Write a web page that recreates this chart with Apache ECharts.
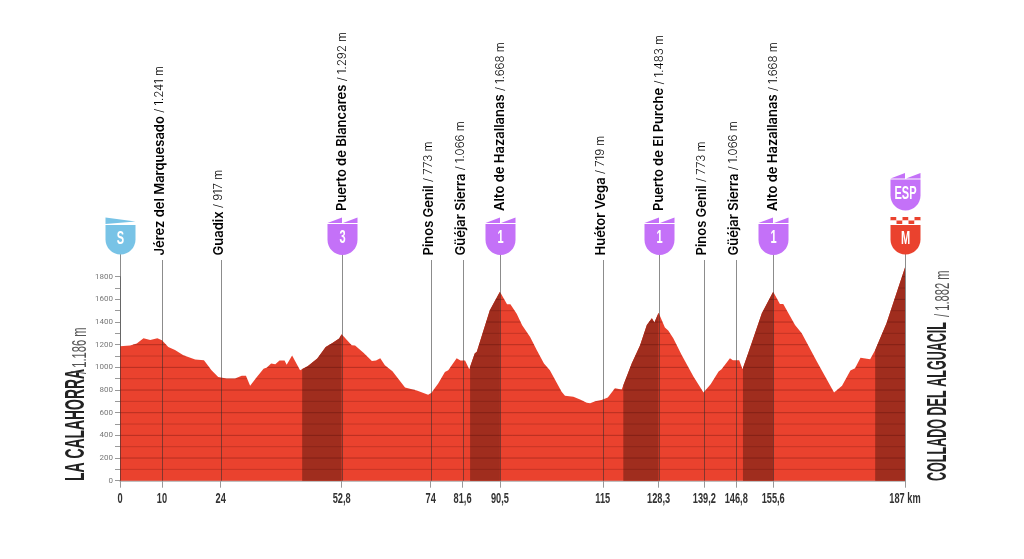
<!DOCTYPE html>
<html>
<head>
<meta charset="utf-8">
<style>html,body{margin:0;padding:0;background:#fff}#main{width:1024px;height:559px}</style>
<script src="https://cdn.jsdelivr.net/npm/echarts@6/dist/echarts.min.js"></script>
</head>
<body>
<div id="main"></div>
<script>
// profile
var profileKm = [0,2.4,4,5.6,7.2,8.9,10,11.5,13.1,15.1,17.9,20,21.8,23.4,25.4,27.4,29,30,31,32.6,34.2,35,36,37,38,39.2,39.7,41,42.9,44.7,47,49,50.6,52.2,52.8,55.2,56,58,60,61,62,63.1,64.9,67.9,70.7,73.4,74.2,75.8,77.4,78.2,80.2,81.1,82.2,83.2,84.5,85,86.6,88.1,90.5,92.2,93,94.5,95.8,97.7,99.3,101,102.4,105.2,106,108,109.6,111.2,112,113.2,114.7,116.2,117.9,119.5,119.9,121.9,123.9,125.5,126.7,127.3,128.3,129.8,130.6,131.8,133.8,136.6,139,140.7,142.6,143.3,145.3,146,147.5,148.3,149.7,150.1,152.9,155.6,157.2,158,160.8,162.4,166,170.1,172,174,175.1,176.4,178.7,179.9,182.6,187];
var profileM = [1186,1192,1210,1257,1242,1257,1240,1180,1154,1107,1069,1063,975,916,902,902,925,925,837,916,987,998,1034,1028,1060,1060,1022,1104,975,1010,1078,1180,1216,1254,1292,1195,1192,1128,1057,1060,1081,1019,966,822,796,758,775,858,960,975,1081,1060,1060,984,1122,1137,1327,1504,1668,1557,1557,1474,1372,1269,1151,1034,975,784,749,740,717,687,684,702,711,734,816,805,843,1034,1195,1374,1433,1395,1483,1351,1325,1257,1110,919,778,852,963,984,1081,1063,1063,984,1131,1140,1477,1668,1560,1560,1374,1301,1051,778,837,972,993,1084,1072,1154,1389,1882];
// climbs [from, to] km
var climbFrom = [43.4,83.4,119.9,148.4,179.9];
var climbTo = [52.8,90.5,128.3,155.6,187];
// waypoints
var wayKm = [0,10,24,52.8,74,81.6,90.5,115,128.3,139.2,146.8,155.6,187];
var wayNames = ['','Jérez del Marquesado','Guadix','Puerto de Blancares','Pinos Genil','Güéjar Sierra','Alto de Hazallanas','Huétor Vega','Puerto de El Purche','Pinos Genil','Güéjar Sierra','Alto de Hazallanas',''];
var wayHeights = ['','1.241 m','917 m','1.292 m','773 m','1.066 m','1.668 m','719 m','1.483 m','773 m','1.066 m','1.668 m',''];
var wayBadges = ['S','','','3','','','1','','1','','','1','M'];
var xTicks = [0,10,24,52.8,74,81.6,90.5,115,128.3,139.2,146.8,155.6,187];
var xLabels = ['0','10','24','52,8','74','81,6','90,5','115','128,3','139,2','146,8','155,6','187 km'];

var RED = '#ea422e', DARK = '#a02d1e', PURPLE = '#c471f8', BLUE = '#78c3e6';
var SANS = '"Liberation Sans"';

function pairs(a, b) { return a.map(function (v, i) { return [v, b[i]]; }); }
var profile = pairs(profileKm, profileM);

// elevation on the profile at a given km
function elevAt(km) {
  for (var i = 1; i < profileKm.length; i++) {
    if (km <= profileKm[i]) {
      var t = (km - profileKm[i - 1]) / (profileKm[i] - profileKm[i - 1]);
      return profileM[i - 1] + t * (profileM[i] - profileM[i - 1]);
    }
  }
  return profileM[profileM.length - 1];
}
function climbData(from, to) {
  var d = [[from, elevAt(from)]];
  profile.forEach(function (p) { if (p[0] > from && p[0] < to) d.push(p); });
  d.push([to, elevAt(to)]);
  return d;
}

// the horizontal rules only exist inside the red, so clip each to the profile
function ruleData(level) {
  var d = [];
  if (profile[0][1] > level) d.push([0, level]);
  for (var i = 1; i < profile.length; i++) {
    var a = profile[i - 1], b = profile[i];
    if ((a[1] - level) * (b[1] - level) < 0) {
      var x = a[0] + (level - a[1]) / (b[1] - a[1]) * (b[0] - a[0]);
      d.push([x, level]);
      if (b[1] < level) d.push([null, null]);
    }
  }
  if (profile[profile.length - 1][1] > level) d.push([187, level]);
  return d;
}

var series = [];
series.push({ type: 'line', data: profile, symbol: 'none', clip: false, silent: true, z: 2,
  lineStyle: { width: 0 }, areaStyle: { color: RED, opacity: 1 } });
climbFrom.forEach(function (f, i) {
  series.push({ type: 'line', data: climbData(f, climbTo[i]), symbol: 'none', clip: false, silent: true, z: 3,
    lineStyle: { width: 0 }, areaStyle: { color: DARK, opacity: 1 } });
});
for (var lv = 100; lv <= 1800; lv += 100) {
  series.push({ type: 'line', data: ruleData(lv), symbol: 'none', clip: false, silent: true, z: 4, connectNulls: false,
    lineStyle: { width: 1, color: 'rgba(60,0,0,' + (lv % 200 === 0 ? 0.3 : 0.2) + ')' } });
}

// shield outline, x0 = left, y0 = top, w wide, h tall
function shield(x0, y0, w, h, color) {
  var r = w / 2, ky = 0.5522 * r;
  return { type: 'path', shape: { pathData:
    'M' + x0 + ' ' + y0 + 'L' + (x0 + w) + ' ' + y0 + 'L' + (x0 + w) + ' ' + (y0 + h - r) +
    'C' + (x0 + w) + ' ' + (y0 + h - r + ky) + ' ' + (x0 + r + ky) + ' ' + (y0 + h) + ' ' + (x0 + r) + ' ' + (y0 + h) +
    'C' + (x0 + r - ky) + ' ' + (y0 + h) + ' ' + x0 + ' ' + (y0 + h - r + ky) + ' ' + x0 + ' ' + (y0 + h - r) + 'Z',
    layout: 'cover', x: x0, y: y0, width: w, height: h }, style: { fill: color }, silent: true };
}
function poly(points, color) {
  return { type: 'polygon', shape: { points: points }, style: { fill: color }, silent: true };
}
function badgeText(cx, cy, t) {
  return { type: 'text', x: cx, y: cy, scaleX: 0.58, silent: true,
    style: { text: t, fill: '#fff', font: 'bold 19px ' + SANS, align: 'center', verticalAlign: 'middle' } };
}
// two slanted flags above the purple shields
function flags(x0, y0, color) {
  return [
    poly([[x0, y0 + 5.5], [x0 + 14.5, y0], [x0 + 14.5, y0 + 5.5]], color),
    poly([[x0 + 15.5, y0 + 5.5], [x0 + 30, y0], [x0 + 30, y0 + 5.5]], color)
  ];
}
function purpleBadge(cx, top, t) {
  var x0 = cx - 15;
  return flags(x0, top, PURPLE).concat([
    shield(x0, top + 6.5, 30, 31, PURPLE),
    badgeText(cx, top + 20.5, t)
  ]);
}
function badgeGroup(cx, b) {
  if (b === 'S') {
    return [
      poly([[cx - 15, 217.5], [cx + 15, 221.5], [cx - 15, 224]], BLUE),
      shield(cx - 15, 225, 30, 29.5, BLUE),
      badgeText(cx, 238.5, 'S')
    ];
  }
  if (b === 'M') {
    var x0 = cx - 15, cells = [];
    for (var c = 0; c < 5; c++) {
      cells.push({ type: 'rect', shape: { x: x0 + c * 6, y: 217, width: 6, height: 3.5 }, style: { fill: c % 2 ? '#fff' : RED }, silent: true });
      cells.push({ type: 'rect', shape: { x: x0 + c * 6, y: 220.5, width: 6, height: 3.5 }, style: { fill: c % 2 ? RED : '#fff' }, silent: true });
    }
    return cells.concat([
      shield(x0, 225, 30, 29.5, RED),
      badgeText(cx, 238.5, 'M')
    ], purpleBadge(cx, 173, 'ESP'));
  }
  return purpleBadge(cx, 217.5, b);
}

function renderWay(params, api) {
  var i = params.dataIndex;
  var base = api.coord([api.value(0), 0]);
  var cx = Math.round(base[0]) + 0.5;
  var has = !!wayBadges[i];
  var kids = [{ type: 'line', silent: true,
    shape: { x1: cx, y1: base[1], x2: cx, y2: has ? 254 : 260 },
    style: { stroke: 'rgba(45,45,45,0.55)', lineWidth: 1 } }];
  if (wayNames[i]) {
    kids.push({ type: 'text', x: has ? cx : cx - 2.5, y: has ? 211 : 255.5, rotation: Math.PI / 2, silent: true,
      style: {
        text: '{n|' + wayNames[i] + '} {v|/ ' + wayHeights[i] + '}',
        align: 'left', verticalAlign: 'middle',
        rich: {
          n: { fontFamily: 'Inter', fontSize: 13, fontWeight: 600, color: '#222' },
          v: { fontFamily: 'Inter', fontSize: 11.5, fontWeight: 300, color: '#666' }
        }
      } });
  }
  if (has) kids = kids.concat(badgeGroup(cx, wayBadges[i]));
  return { type: 'group', children: kids };
}

function renderXLabel(params, api) {
  var p = api.coord([api.value(0), 0]);
  return { type: 'text', x: p[0], y: p[1] + 18.5, scaleX: 0.66, silent: true,
    style: { text: xLabels[params.dataIndex], fill: '#333', font: 'bold 14px ' + SANS, align: 'center', verticalAlign: 'middle' } };
}

// the two big names on the flanks, each squeezed to its own length
function sideText(x, y, scale, text, font, color) {
  return { type: 'text', x: x, y: y, rotation: Math.PI / 2, scaleX: scale, silent: true,
    style: { text: text, font: font, fill: color, align: 'left', verticalAlign: 'middle' } };
}

series.push({ type: 'custom', data: wayKm.map(function (k) { return [k]; }), clip: false, silent: true, z: 6,
  encode: { x: 0 }, renderItem: renderWay });
series.push({ type: 'custom', data: xTicks.map(function (k) { return [k]; }), clip: false, silent: true, z: 6,
  encode: { x: 0 }, renderItem: renderXLabel });

var NAME_FONT = 'bold 27px ' + SANS, VALUE_FONT = '20px ' + SANS;
var chart = echarts.init(document.getElementById('main'), null, { renderer: 'canvas' });
chart.setOption({
  animation: false,
  backgroundColor: '#fff',
  grid: { left: 120, right: 119, top: 276.7, bottom: 78.3, containLabel: false },
  graphic: [
    sideText(76.5, 481, 0.515, 'LA CALAHORRA', NAME_FONT, '#222'),
    sideText(80, 374, 0.56, '/ 1.186 m', VALUE_FONT, '#555'),
    sideText(939, 481, 0.465, 'COLLADO DEL ALGUACIL', NAME_FONT, '#222'),
    sideText(943, 317, 0.56, '/ 1.882 m', VALUE_FONT, '#555')
  ],
  xAxis: {
    type: 'value', min: 0, max: 187, splitLine: { show: false },
    axisLine: { onZero: false, lineStyle: { color: '#aaa', width: 1.5 } },
    axisTick: { show: true, length: 7, lineStyle: { color: '#999' }, customValues: xTicks },
    axisLabel: { show: false }
  },
  yAxis: {
    type: 'value', min: 0, max: 1800, interval: 200, splitLine: { show: false },
    axisLine: { show: true, lineStyle: { color: '#aaa' } },
    axisTick: { show: true, length: 5, lineStyle: { color: '#999' } },
    minorTick: { show: true, splitNumber: 2, length: 5, lineStyle: { color: '#999' } },
    axisLabel: { margin: 7, fontFamily: 'Roboto', fontSize: 8, color: '#777',
      formatter: function (v) { return String(v); } }
  },
  series: series
});
</script>
</body>
</html>
